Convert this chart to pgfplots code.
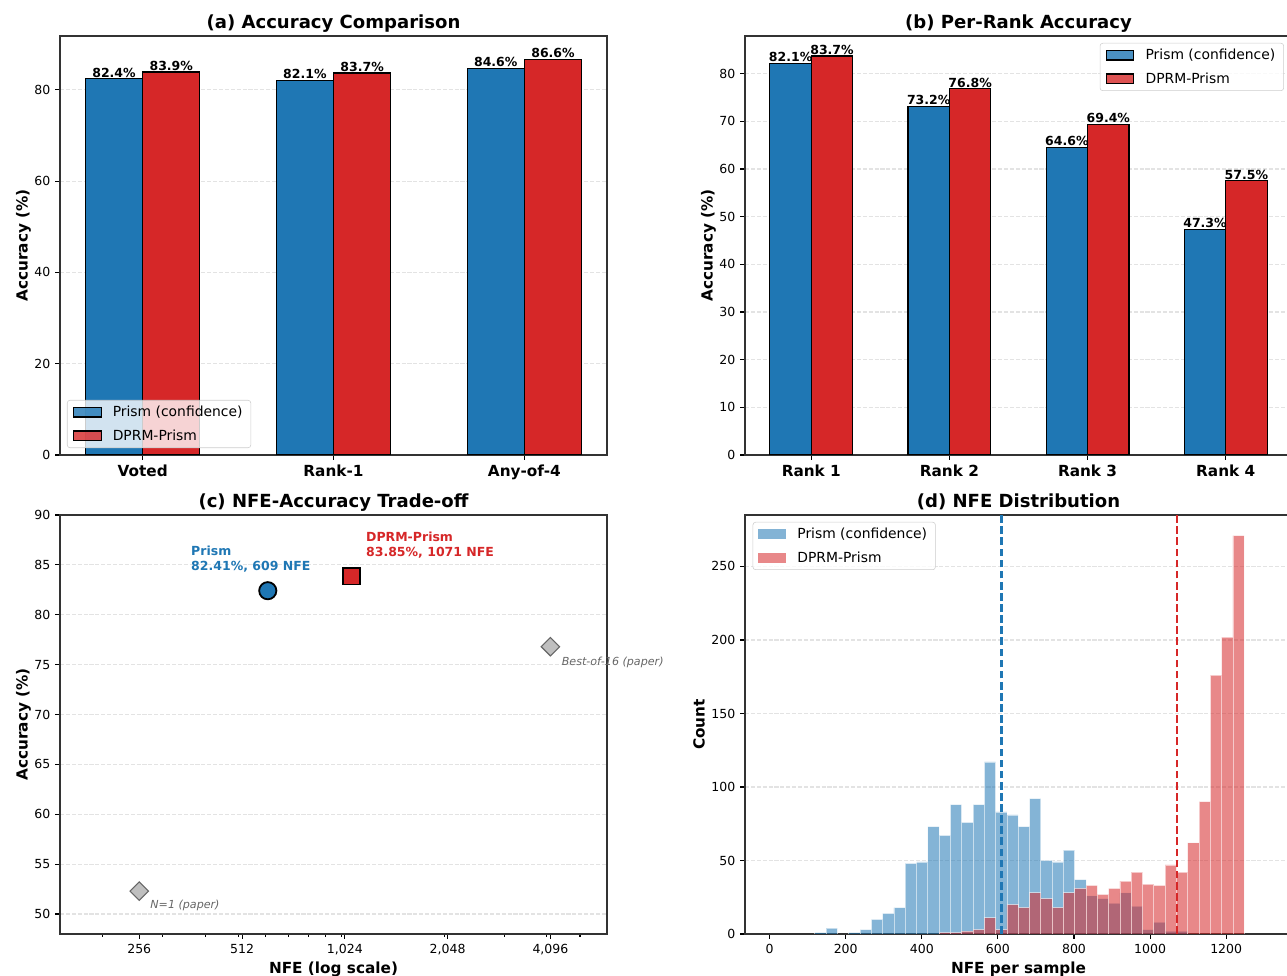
\documentclass[border=0pt]{standalone}
\usepackage{fontspec}
\setmainfont{DejaVu Sans}
\usepackage{pgfplots}
\pgfplotsset{compat=1.18}
\definecolor{tabblue}{HTML}{1F77B4}
\definecolor{tabred}{HTML}{D62728}
\definecolor{gridc}{HTML}{E3E3E3}
\definecolor{spine}{HTML}{333333}
\pgfplotsset{
  every axis/.append style={
    scale only axis, width=393.84pt, height=301.68pt, anchor=south west,
    /pgf/number format/assume math mode=true,
    /pgf/number format/set thousands separator={},
    scaled ticks=false,
    tick label style={font=\fontsize{9}{11}\selectfont},
    axis line style={line width=0.8pt, spine},
    tick style={line width=0.8pt, black},
    major tick length=3.5pt, minor tick length=2pt, tick align=outside, tick pos=left,
    ymajorgrids, major grid style={gridc, line width=0.8pt, dash pattern=on 2.96pt off 1.28pt},
    title style={at={(axis description cs:0.5,1)}, anchor=base, yshift=-0.5pt, font=\bfseries\fontsize{13}{15}\selectfont},
    ylabel style={at={([xshift=-23.3pt]axis description cs:0,0.5)}, anchor=base, font=\bfseries\fontsize{11}{13}\selectfont},
    xlabel style={at={([yshift=-28.1pt]axis description cs:0.5,0)}, anchor=base, font=\bfseries\fontsize{11}{13}\selectfont},
    legend cell align=left,
    legend style={draw=black!20, rounded corners=2pt, fill=white, fill opacity=0.8, draw opacity=1, text opacity=1,
      font=\fontsize{10}{12}\selectfont, inner xsep=4pt, inner ysep=2pt, row sep=4pt,
      /tikz/every odd column/.append style={column sep=6pt}},
    every node near coord/.append style={font=\bfseries\fontsize{9}{10}\selectfont, anchor=south, inner sep=0.8pt, text=black},
  },
  barleg/.style={legend image code/.code={\draw[##1, sharp corners, line width=0.8pt] (0pt,-3.5pt) rectangle (20pt,3.5pt);}},
  histleg/.style={legend image code/.code={\fill[##1, sharp corners, draw=none] (0pt,-3.5pt) rectangle (20pt,3.5pt);}},
  vallab/.style={nodes near coords={\pgfmathprintnumber[fixed,fixed zerofill,precision=1]{\pgfplotspointmeta}\%}},
}
\begin{document}
\begin{tikzpicture}
\useasboundingbox (0,0) rectangle (926.64pt,702.72pt);
\clip (0,0) rectangle (926.64pt,702.72pt);
% (a)
\begin{axis}[at={(43.2pt,375.12pt)},
  xmin=-0.433, xmax=2.433, ymin=0, ymax=91.8,
  xtick={0,1,2}, xticklabels={Voted,Rank-1,Any-of-4},
  xticklabel style={font=\bfseries\fontsize{11}{13}\selectfont},
  ytick={0,20,40,60,80},
  ylabel={Accuracy (\%)},
  title={(a) Accuracy Comparison},
  legend style={at={(axis description cs:0,0)}, anchor=south west, xshift=5pt, yshift=5pt},
]
\addplot[ybar, bar width=0.3, bar shift=0, fill=tabblue, draw=black, line width=0.8pt, vallab, barleg]
  coordinates {(-0.15,82.4) (0.85,82.1) (1.85,84.6)};
\addlegendentry{Prism (confidence)}
\addplot[ybar, bar width=0.3, bar shift=0, fill=tabred, draw=black, line width=0.8pt, vallab, barleg]
  coordinates {(0.15,83.9) (1.15,83.7) (2.15,86.6)};
\addlegendentry{DPRM-Prism}
\end{axis}
% (b)
\begin{axis}[at={(536.4pt,375.12pt)},
  xmin=-0.48, xmax=3.48, ymin=0, ymax=87.9,
  xtick={0,1,2,3}, xticklabels={Rank 1,Rank 2,Rank 3,Rank 4},
  xticklabel style={font=\bfseries\fontsize{11}{13}\selectfont},
  ytick={0,10,...,80},
  ylabel={Accuracy (\%)},
  title={(b) Per-Rank Accuracy},
  legend style={at={(axis description cs:1,1)}, anchor=north east, xshift=-5.8pt, yshift=-5pt},
]
\addplot[ybar, bar width=0.3, bar shift=0, fill=tabblue, draw=black, line width=0.8pt, vallab, barleg]
  coordinates {(-0.15,82.1) (0.85,73.2) (1.85,64.6) (2.85,47.3)};
\addlegendentry{Prism (confidence)}
\addplot[ybar, bar width=0.3, bar shift=0, fill=tabred, draw=black, line width=0.8pt, vallab, barleg]
  coordinates {(0.15,83.7) (1.15,76.8) (2.15,69.4) (3.15,57.5)};
\addlegendentry{DPRM-Prism}
\end{axis}
% (c)
\begin{axis}[at={(43.2pt,30.24pt)},
  clip mode=individual,
  xmode=log, xmin=150, xmax=6000, ymin=48, ymax=90,
  xtick={256,512,1024,2048,4096}, xticklabels={256,512,{1,024},{2,048},{4,096}},
  minor xtick={200,300,400,500,600,700,800,900,1000,2000,3000,4000,5000},
  ytick={50,55,...,90},
  xlabel={NFE (log scale)}, ylabel={Accuracy (\%)},
  title={(c) NFE-Accuracy Trade-off},
]
\addplot[only marks, mark=square*, mark size=4.7pt, mark options={rotate=45, fill=black!25, draw=black!60, line width=0.8pt}]
  coordinates {(256,52.3) (4096,76.8)};
\addplot[only marks, mark=*, mark size=6.2pt, mark options={fill=tabblue, draw=black, line width=1.3pt}]
  coordinates {(609,82.41)};
\addplot[only marks, mark=square*, mark size=5.9pt, mark options={fill=tabred, draw=black, line width=1.3pt}]
  coordinates {(1071,83.85)};
\node[anchor=north west, inner sep=0pt, align=left, font=\bfseries\fontsize{9}{10.8}\selectfont, text=tabblue]
  at (axis cs:362.8,86.9) {Prism\\82.41\%, 609 NFE};
\node[anchor=north west, inner sep=0pt, align=left, font=\bfseries\fontsize{9}{10.8}\selectfont, text=tabred]
  at (axis cs:1180,88.3) {DPRM-Prism\\83.85\%, 1071 NFE};
\node[anchor=base west, inner sep=0pt, font=\itshape\fontsize{8}{10}\selectfont, text=black!60]
  at (axis cs:4415,74.87) {Best-of-16 (paper)};
\node[anchor=base west, inner sep=0pt, font=\itshape\fontsize{8}{10}\selectfont, text=black!60]
  at (axis cs:275.4,50.56) {N=1 (paper)};
\end{axis}
% (d)
\begin{axis}[at={(536.4pt,30.24pt)},
  xmin=-64.7, xmax=1373, ymin=0, ymax=285,
  xtick={0,200,...,1200}, ytick={0,50,...,250},
  xlabel={NFE per sample}, ylabel={Count},
  ylabel style={at={([xshift=-29.1pt]axis description cs:0,0.5)}},
  title={(d) NFE Distribution},
  legend style={at={(axis description cs:0,1)}, anchor=north west, xshift=5.5pt, yshift=-5pt},
]
\addplot[ybar, bar width=29.7, bar shift=0, fill=tabblue, draw=white, line width=0.5pt, opacity=0.55, histleg]
  coordinates {(133.65,1) (163.35,4) (222.75,1) (252.45,3) (282.15,10) (311.85,14) (341.55,18) (371.25,48)
  (400.95,49) (430.65,73) (460.35,67) (490.05,88) (519.75,76) (549.45,88) (579.15,117) (608.85,83)
  (638.55,81) (668.25,73) (697.95,92) (727.65,50) (757.35,49) (787.05,57) (816.75,37) (846.45,26)
  (876.15,24) (905.85,21) (935.55,28) (965.25,19) (994.95,3) (1024.65,8) (1054.35,2) (1084.05,2)};
\addlegendentry{Prism (confidence)}
\addplot[ybar, bar width=29.7, bar shift=0, fill=tabred, draw=white, line width=0.5pt, opacity=0.55, histleg]
  coordinates {(460.35,1) (490.05,1) (519.75,2) (549.45,3) (579.15,11) (608.85,3) (638.55,20) (668.25,18)
  (697.95,28) (727.65,24) (757.35,18) (787.05,28) (816.75,31) (846.45,33) (876.15,27) (905.85,31)
  (935.55,36) (965.25,42) (994.95,34) (1024.65,33) (1054.35,47) (1084.05,42) (1113.75,62) (1143.45,90)
  (1173.15,176) (1202.85,202) (1232.55,271)};
\addlegendentry{DPRM-Prism}
\addplot[draw=tabblue, line width=1.8pt, dash pattern=on 5.5pt off 2.5pt, forget plot] coordinates {(609,0) (609,285)};
\addplot[draw=tabred, line width=1.8pt, dash pattern=on 5.5pt off 2.5pt, forget plot] coordinates {(1071,0) (1071,285)};
\end{axis}
\end{tikzpicture}
\end{document}
